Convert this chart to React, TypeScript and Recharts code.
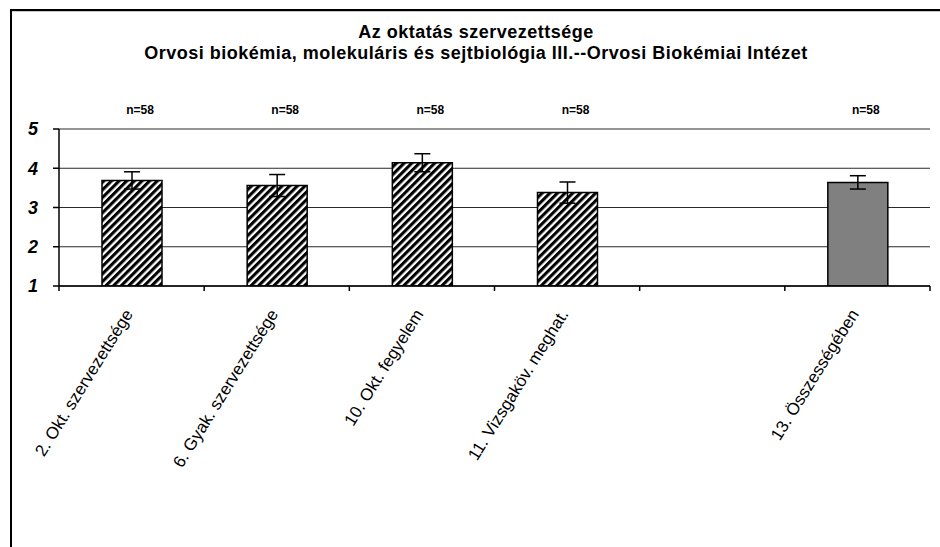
import React from 'react';
import { BarChart, Bar, Cell, XAxis, YAxis, CartesianGrid, ErrorBar, LabelList } from 'recharts';

const CATEGORIES = [
  '2. Okt. szervezettsége',
  '6. Gyak. szervezettsége',
  '10. Okt. fegyelem',
  '11. Vizsgaköv. meghat.',
  '',
  '13. Összességében',
];
const MEANS = [3.69, 3.56, 4.14, 3.38, null, 3.64];
const ERRORS = [0.22, 0.28, 0.23, 0.27, null, 0.17];
const COUNTS = ['n=58', 'n=58', 'n=58', 'n=58', null, 'n=58'];
const Y_TICKS = [1, 2, 3, 4, 5];
const TITLE = ['Az oktatás szervezettsége', 'Orvosi biokémia, molekuláris és sejtbiológia III.--Orvosi Biokémiai Intézet'];

const data = CATEGORIES.map((name, i) => ({
  name,
  mean: MEANS[i],
  err: ERRORS[i],
  n: COUNTS[i],
  summary: i === CATEGORIES.length - 1,
}));

const FONT = '"Liberation Sans", Arial, sans-serif';
const W = 940;
const H = 547;
const TOP = 129;

function CategoryTick(props: any) {
  const { x, y, payload, index } = props;
  const half = payload?.offset ?? 72.6;
  const ax = x + 2;
  const ay = y + 28;
  return (
    <g>
      <line x1={x - half} y1={y} x2={x - half} y2={y + 5} stroke="#000" strokeWidth={1.5} />
      {index === CATEGORIES.length - 1 && (
        <line x1={x + half} y1={y} x2={x + half} y2={y + 5} stroke="#000" strokeWidth={1.5} />
      )}
      <text
        x={ax}
        y={ay}
        transform={`rotate(-58, ${ax}, ${ay})`}
        textAnchor="end"
        fontSize={17}
        fontFamily={FONT}
        fill="#000"
      >
        {payload.value}
      </text>
    </g>
  );
}

function ValueTick(props: any) {
  const { x, y, payload } = props;
  return (
    <text x={x} y={y} dy="0.36em" textAnchor="end" fontSize={18} fontWeight="bold" fontStyle="italic" fontFamily={FONT} fill="#000">
      {payload.value}
    </text>
  );
}

function CountLabel(props: any) {
  const { x, width, value } = props;
  if (!value) return null;
  return (
    <text x={x + width / 2 + 8} y={TOP - 15} textAnchor="middle" fontSize={12} fontWeight="bold" fontFamily={FONT} fill="#000">
      {value}
    </text>
  );
}

export default function App() {
  return (
    <div style={{ position: 'absolute', left: 0, top: 0, width: W, height: H, background: '#fff', overflow: 'hidden' }}>
      <svg width={0} height={0} style={{ position: 'absolute' }}>
        <defs>
          <pattern id="hatch" patternUnits="userSpaceOnUse" width={5.4} height={5.4} patternTransform="rotate(45)">
            <rect x={0} y={0} width={5.4} height={5.4} fill="#fff" />
            <rect x={0} y={0} width={3.1} height={5.4} fill="#000" />
          </pattern>
        </defs>
      </svg>
      <svg width={W} height={H} style={{ position: 'absolute', left: 0, top: 0 }}>
        <line x1={11} y1={10} x2={W} y2={10} stroke="#000" strokeWidth={2} />
        <line x1={12} y1={11.5} x2={W} y2={11.5} stroke="#c8c8c8" strokeWidth={1} />
        <line x1={11} y1={9} x2={11} y2={H} stroke="#000" strokeWidth={2} />
        <text x={476} y={38} textAnchor="middle" fontSize={18} fontWeight="bold" fontFamily={FONT} letterSpacing={0.5}>
          {TITLE[0]}
        </text>
        <text x={476} y={59} textAnchor="middle" fontSize={18} fontWeight="bold" fontFamily={FONT} letterSpacing={0.5}>
          {TITLE[1]}
        </text>
      </svg>
      <div style={{ position: 'absolute', left: 0, top: 0 }}>
        <BarChart width={W} height={H} data={data} margin={{ top: TOP, right: 10, bottom: 0, left: 0 }}>
          <CartesianGrid vertical={false} stroke="#2a2a2a" strokeWidth={1} />
          <XAxis
            dataKey="name"
            height={261}
            interval={0}
            tickLine={false}
            tickSize={0}
            tickMargin={0}
            axisLine={{ stroke: '#000', strokeWidth: 1.5 }}
            tick={<CategoryTick />}
          />
          <YAxis
            domain={[1, 5]}
            ticks={Y_TICKS}
            width={59}
            tickSize={6}
            tickMargin={15}
            axisLine={{ stroke: '#000', strokeWidth: 1.5 }}
            tickLine={{ stroke: '#000', strokeWidth: 1.5 }}
            tick={<ValueTick />}
            allowDataOverflow
          />
          <YAxis
            yAxisId="frame"
            orientation="right"
            domain={[1, 5]}
            width={0}
            tick={false}
            tickLine={false}
            axisLine={{ stroke: '#000', strokeWidth: 1.5 }}
          />
          <Bar dataKey="mean" barSize={60} stroke="#000" strokeWidth={1.5} isAnimationActive={false}>
            {data.map((d) => (
              <Cell key={d.name || 'blank'} fill={d.summary ? '#808080' : 'url(#hatch)'} />
            ))}
            <ErrorBar dataKey="err" width={8} stroke="#000" strokeWidth={1.5} />
            <LabelList dataKey="n" content={<CountLabel />} />
          </Bar>
        </BarChart>
      </div>
    </div>
  );
}
